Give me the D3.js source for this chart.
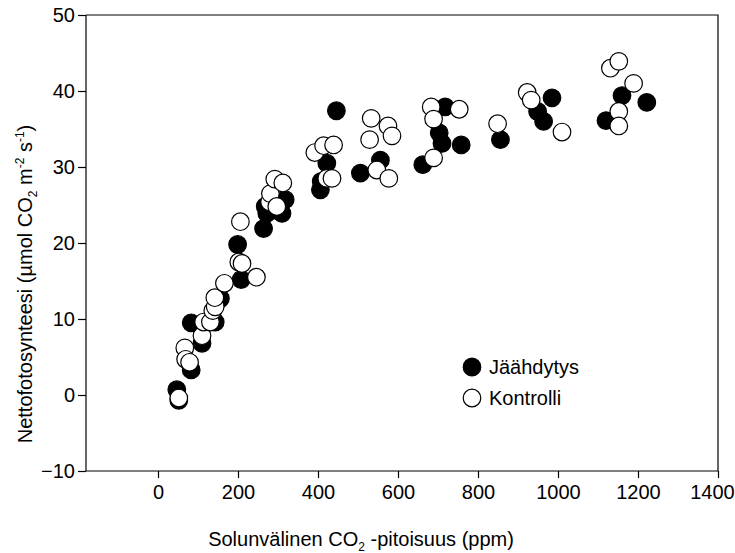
<!DOCTYPE html>
<html>
<head>
<meta charset="utf-8">
<script src="https://cdn.jsdelivr.net/npm/d3@7"></script>
<style>
  body { margin: 0; background: #fff; }
  text { font-family: "Liberation Sans", Arial, sans-serif; fill: #000; }
</style>
</head>
<body>
<svg id="chart"></svg>
<script>
// Jäähdytys (filled) points: [Ci ppm, net photosynthesis]
const jaahdytys = [
  [47, 0.7], [52, -0.7], [83, 3.3], [83, 9.5], [110, 6.8], [143, 9.6],
  [151, 12.5], [156, 12.7], [208, 15.2], [199, 19.8], [264, 21.9],
  [268, 24.8], [272, 23.9], [297, 24.3], [310, 23.9], [318, 25.7],
  [406, 27.0], [408, 28.1], [422, 30.5], [446, 37.4], [506, 29.2],
  [556, 30.9], [662, 30.3], [703, 34.5], [710, 33.1], [718, 37.9],
  [758, 32.9], [856, 33.6], [949, 37.3], [964, 36.0], [985, 39.1],
  [1120, 36.1], [1160, 39.4], [1222, 38.5]
]

// Kontrolli (open) points
const kontrolli = [
  [52, -0.4], [67, 6.2], [69, 4.7], [79, 4.3], [110, 7.8], [114, 9.6],
  [131, 9.6], [137, 11.1], [143, 11.6], [142, 12.8], [166, 14.7],
  [202, 17.5], [210, 17.3], [206, 22.8], [246, 15.5], [279, 25.4],
  [281, 26.5], [292, 28.4], [297, 24.8], [312, 27.9], [392, 31.9],
  [414, 32.8], [422, 28.5], [435, 28.5], [439, 32.9], [529, 33.6],
  [533, 36.4], [547, 29.6], [575, 35.4], [577, 28.5], [585, 34.1],
  [683, 37.9], [689, 36.3], [689, 31.2], [753, 37.6], [849, 35.7],
  [923, 39.8], [933, 38.8], [1010, 34.6], [1131, 43.0], [1152, 43.9],
  [1152, 37.3], [1152, 35.4], [1189, 41.0]
]

const xTicks = [0, 200, 400, 600, 800, 1000, 1200, 1400]
const yTicks = [-10, 0, 10, 20, 30, 40, 50]
const legendLabels = ['Jäähdytys', 'Kontrolli']

const width = 735, height = 553
const margin = { top: 15, right: 17, bottom: 82, left: 86 }
const innerW = width - margin.left - margin.right
const innerH = height - margin.top - margin.bottom
const fontSize = '20px'

const svg = d3.select('#chart')
    .attr('width', width)
    .attr('height', height)

const g = svg.append('g')
    .attr('transform', `translate(${margin.left}, ${margin.top})`)

const x = d3.scaleLinear().domain([-180, 1400]).range([0, innerW])
const y = d3.scaleLinear().domain([-10, 50]).range([innerH, 0])

// frame (top and right)
g.append('path')
    .attr('d', `M0,0H${innerW}V${innerH}`)
    .attr('fill', 'none')
    .attr('stroke', '#000')
    .attr('stroke-width', 1.2)

const xAxis = g.append('g')
    .attr('transform', `translate(0, ${innerH})`)
    .call(d3.axisBottom(x).tickValues(xTicks).tickFormat(d3.format('d'))
        .tickSize(7).tickPadding(7).tickSizeOuter(0))

const yAxis = g.append('g')
    .call(d3.axisLeft(y).tickValues(yTicks).tickFormat(d3.format('d'))
        .tickSize(8).tickPadding(3).tickSizeOuter(0))

for (const ax of [xAxis, yAxis]) {
    ax.selectAll('path, line').attr('stroke', '#000').attr('stroke-width', 1.2)
    ax.selectAll('text').style('font-size', fontSize).style('font-family', '"Liberation Sans", Arial, sans-serif')
}
yAxis.select('.domain').attr('d', `M0,0V${innerH}`)
xAxis.select('.domain').attr('d', `M0,0H${innerW}`)

// last label sits at the page edge; nudge it in so it is not clipped
xAxis.selectAll('.tick text').filter(d => d === 1400).attr('dx', -6)

const r = 8.8

g.append('g').selectAll('circle')
    .data(jaahdytys)
    .join('circle')
        .attr('cx', d => x(d[0]))
        .attr('cy', d => y(d[1]))
        .attr('r', r)
        .attr('fill', '#000')
        .attr('stroke', '#000')
        .attr('stroke-width', 1.2)

g.append('g').selectAll('circle')
    .data(kontrolli)
    .join('circle')
        .attr('cx', d => x(d[0]))
        .attr('cy', d => y(d[1]))
        .attr('r', r)
        .attr('fill', '#fff')
        .attr('stroke', '#000')
        .attr('stroke-width', 1.2)

// legend
const legend = svg.append('g').attr('transform', 'translate(472, 367)')
const fills = ['#000', '#fff']
legendLabels.forEach((lab, i) => {
    const row = legend.append('g').attr('transform', `translate(0, ${i * 31})`)
    row.append('circle').attr('r', r).attr('fill', fills[i]).attr('stroke', '#000').attr('stroke-width', 1.2)
    row.append('text').attr('x', 17).attr('dy', '0.35em').style('font-size', fontSize).text(lab)
})

// x title
const xt = svg.append('text')
    .attr('x', 361)
    .attr('y', 546)
    .attr('text-anchor', 'middle')
    .style('font-size', fontSize)
xt.append('tspan').text('Solunvälinen CO')
xt.append('tspan').attr('dy', 5).style('font-size', '12px').text('2')
xt.append('tspan').attr('dy', -5).text(' -pitoisuus (ppm)')

// y title
const yt = svg.append('text')
    .attr('transform', 'translate(32, 284) rotate(-90)')
    .attr('text-anchor', 'middle')
    .style('font-size', fontSize)
yt.append('tspan').text('Nettofotosynteesi (µmol CO')
yt.append('tspan').attr('dy', 5).style('font-size', '12px').text('2')
yt.append('tspan').attr('dy', -5).text('  m')
yt.append('tspan').attr('dy', -8).style('font-size', '12px').text('-2')
yt.append('tspan').attr('dy', 8).text(' s')
yt.append('tspan').attr('dy', -8).style('font-size', '12px').text('-1')
yt.append('tspan').attr('dy', 8).text(')')
</script>
</body>
</html>
